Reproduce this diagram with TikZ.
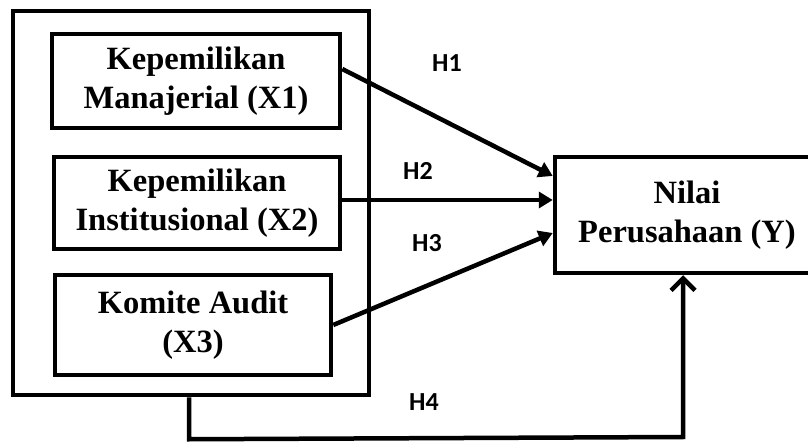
\documentclass[tikz,border=0pt]{standalone}
\usepackage{fontspec}
\setmainfont{Liberation Serif}
\newfontfamily\hfont{Carlito}
\usetikzlibrary{arrows.meta,calc}
\begin{document}
\begin{tikzpicture}[x=1pt,y=-1pt,line width=4.5pt,
  varbox/.style={draw,line width=4.5pt,inner sep=0pt,align=center,
    font=\fontsize{32.5}{39}\selectfont\bfseries},
  hlabel/.style={font=\hfont\fontsize{26}{26}\selectfont\bfseries,inner sep=0pt},
  conn/.style={line width=4.5pt,-{Triangle[length=14pt,width=16pt]}},
  conn4/.style={line width=4.5pt,-{Straight Barb[length=12pt,width=24pt,line width=4.5pt]}}]
\clip (0,0) rectangle (808,443);
\fill[white] (0,0) rectangle (808,443);
\node[draw,minimum width=356pt,minimum height=384pt,inner sep=0pt] (outer) at (191,203) {};
\node[varbox,minimum width=288pt,minimum height=94pt] (x1) at (196,81) {Kepemilikan\\Manajerial (X1)};
\node[varbox,minimum width=286pt,minimum height=92pt] (x2) at (197,203) {Kepemilikan\\Institusional (X2)};
\node[varbox,minimum width=276pt,minimum height=100pt] (x3) at (193,325) {Komite Audit\\(X3)};
\node[varbox,minimum width=264pt,minimum height=116pt] (y) at (687,215) {Nilai\\Perusahaan (Y)};
\node[hlabel] (h1) at (447,63) {H1};
\node[hlabel] (h2) at (418,171) {H2};
\node[hlabel] (h3) at (427,243) {H3};
\node[hlabel] (h4) at (424,402) {H4};
\draw[conn] ($(x1.east)+(0,-12)$) -- ($(y.west)+(0,-39)$);
\draw[conn] ($(x2.east)+(0,-3)$) -- ($(y.west)+(0,-15)$);
\draw[conn] ($(x3.east)+(0,0)$) -- ($(y.west)+(0,18)$);
\coordinate (c1) at ($(outer.south)+(-2,42)$);
\coordinate (c2) at (683,437);
\draw[conn4] (outer.south -| c1) -- (c1) -- (c2) -- (c2 |- y.south);
\end{tikzpicture}
\end{document}
